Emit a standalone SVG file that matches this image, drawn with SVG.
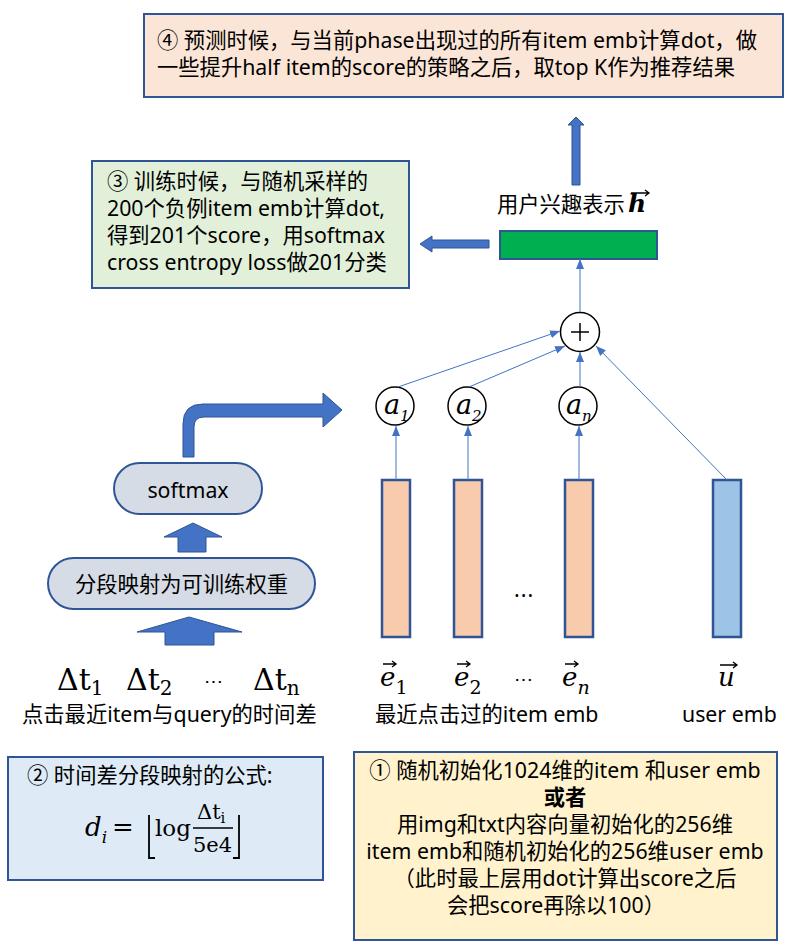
<svg xmlns="http://www.w3.org/2000/svg" width="793" height="952" viewBox="0 0 793 952">
<defs>
<marker id="ah" viewBox="0 0 10 10" refX="10" refY="5" markerWidth="10" markerHeight="8" markerUnits="userSpaceOnUse" orient="auto" preserveAspectRatio="none">
<path d="M0,0 L10,5 L0,10 z" fill="#4472C4"/>
</marker>
<style>
.t{font-family:'Noto Sans','Noto Sans CJK SC',sans-serif;font-size:21.3px;fill:#000}
.m{font-family:'DejaVu Serif','Liberation Serif',serif;fill:#000}
.mi{font-family:'DejaVu Serif','Liberation Serif',serif;font-style:italic;fill:#000}
.box{stroke:#2F5597;stroke-width:2}
.ln{stroke:#4472C4;stroke-width:1;fill:none;marker-end:url(#ah)}
.blk{fill:#4472C4;stroke:#2F5597;stroke-width:1}
.circ{fill:#fff;stroke:#000;stroke-width:1.5}
.bar{stroke:#2F5597;stroke-width:2.5}
.vec{stroke:#000;stroke-width:1.3;fill:none}
</style>
</defs>

<g id="predict-note">
<rect class="box" x="144" y="14" width="639" height="83" fill="#FBE5D6"/>
<text class="t"><tspan x="157" y="48">④ 预测时候，与当前phase出现过的所有item emb计算dot，做</tspan><tspan x="157" y="75">一些提升half item的score的策略之后，取top K作为推荐结果</tspan></text>
</g>

<g id="train-note">
<rect class="box" x="92" y="161" width="317" height="127" fill="#E2F0D9"/>
<text class="t"><tspan x="107" y="189">③ 训练时候，与随机采样的</tspan><tspan x="107" y="216">200个负例item emb计算dot,</tspan><tspan x="107" y="243">得到201个score，用softmax</tspan><tspan x="107" y="270">cross entropy loss做201分类</tspan></text>
</g>

<g id="user-interest">
<text class="t" x="497" y="212">用户兴趣表示</text>
<text class="mi" x="628" y="212" font-size="25" font-weight="bold">h</text>
<path class="vec" d="M631 193 h18 m-4 -3 l4 3 l-4 3"/>
<rect class="box" x="500" y="231" width="157" height="28" fill="#00B050"/>
</g>

<g id="plus-node">
<circle class="circ" cx="580" cy="332" r="19.5"/>
<path d="M571 332 h18 M580 323 v18" stroke="#000" stroke-width="1.5"/>
</g>

<g id="a1">
<circle class="circ" cx="395" cy="406" r="19"/>
<text class="mi" x="384" y="414" font-size="27">a<tspan font-size="15" dy="7">1</tspan></text>
</g>
<g id="a2">
<circle class="circ" cx="467" cy="406" r="19"/>
<text class="mi" x="456" y="414" font-size="27">a<tspan font-size="15" dy="7">2</tspan></text>
</g>
<g id="an">
<circle class="circ" cx="578" cy="406" r="19"/>
<text class="mi" x="566" y="414" font-size="27">a<tspan font-size="15" dy="7">n</tspan></text>
</g>

<g id="e1-bar"><rect class="bar" x="382" y="480" width="28" height="157" fill="#F8CBAD"/></g>
<g id="e2-bar"><rect class="bar" x="454" y="480" width="28" height="157" fill="#F8CBAD"/></g>
<g id="en-bar"><rect class="bar" x="565" y="480" width="28" height="157" fill="#F8CBAD"/></g>
<g id="u-bar"><rect class="bar" x="713" y="480" width="28" height="157" fill="#9DC3E6"/></g>
<text class="t" x="514" y="597" font-size="20" letter-spacing="1">...</text>

<g id="connectors">
<line class="ln" x1="396" y1="480" x2="396" y2="426"/>
<line class="ln" x1="468" y1="480" x2="468" y2="426"/>
<line class="ln" x1="579" y1="480" x2="579" y2="426"/>
<line class="ln" x1="398" y1="387" x2="560" y2="331"/>
<line class="ln" x1="469" y1="387" x2="565" y2="346"/>
<line class="ln" x1="580" y1="387" x2="580" y2="352"/>
<line class="ln" x1="727" y1="480" x2="596" y2="346"/>
<line class="ln" x1="580" y1="312" x2="580" y2="259"/>
<polygon class="blk" points="576,117 584,125 580,125 580,185 572,185 572,125 568,125"/>
<polygon class="blk" points="420,244 432,236 432,240 489,240 489,248 432,248 432,252"/>
<path class="blk" d="M183,457 L183,424 Q183,404 203,404 L323,404 L323,393 L342,410 L323,427 L323,417 L204,417 Q194,417 194,427 L194,457 Z"/>
<polygon class="blk" points="193,523 222,537 206,537 206,552 178,552 178,537 164,537"/>
<polygon class="blk" points="189,617 242,632 214,632 214,645 165,645 165,632 137,632"/>
</g>

<g id="softmax">
<rect class="box" x="114" y="463" width="148" height="51" rx="25.5" fill="#D6DCE5"/>
<text class="t" x="188" y="498" font-size="20" text-anchor="middle">softmax</text>
</g>

<g id="mapping">
<rect class="box" x="48" y="558" width="267" height="51" rx="25.5" fill="#D6DCE5"/>
<text class="t" x="181.5" y="592" text-anchor="middle">分段映射为可训练权重</text>
</g>

<g id="delta-t">
<text class="m" x="57" y="690" font-size="30">Δt<tspan font-size="20" dy="5">1</tspan></text>
<text class="m" x="126" y="690" font-size="30">Δt<tspan font-size="20" dy="5">2</tspan></text>
<text class="m" x="204" y="688" font-size="19">⋯</text>
<text class="m" x="253" y="690" font-size="30">Δt<tspan font-size="20" dy="5">n</tspan></text>
<text class="t" x="22" y="722">点击最近item与query的时间差</text>
</g>

<g id="e-labels">
<text class="mi" x="380" y="686" font-size="26">e<tspan class="m" font-style="normal" font-size="19" dy="8">1</tspan></text>
<path class="vec" d="M383 664 h13 m-4 -3 l4 3 l-4 3"/>
<text class="mi" x="454" y="686" font-size="26">e<tspan class="m" font-style="normal" font-size="19" dy="8">2</tspan></text>
<path class="vec" d="M457 664 h13 m-4 -3 l4 3 l-4 3"/>
<text class="m" x="514" y="686" font-size="19">⋯</text>
<text class="mi" x="562" y="686" font-size="26">e<tspan font-size="19" dy="8">n</tspan></text>
<path class="vec" d="M565 664 h13 m-4 -3 l4 3 l-4 3"/>
<text class="t" x="375" y="722">最近点击过的item emb</text>
</g>

<g id="u-label">
<text class="mi" x="718" y="686" font-size="26">u</text>
<path class="vec" d="M720 665 h17 m-4 -3 l4 3 l-4 3"/>
<text class="t" x="682" y="722">user emb</text>
</g>

<g id="formula-note">
<rect class="box" x="8" y="757" width="315" height="123" fill="#DEEBF7"/>
<text class="t" x="27" y="783">② 时间差分段映射的公式:</text>
<text class="mi" x="85" y="836" font-size="26">d<tspan font-size="17" dy="7">i</tspan></text>
<text class="m" x="112" y="836" font-size="26">=</text>
<path d="M149 815 V858 H155 M239 815 V858 H233" stroke="#000" stroke-width="1.8" fill="none"/>
<text class="m" x="155" y="836" font-size="23">log</text>
<line x1="193" y1="828" x2="233" y2="828" stroke="#000" stroke-width="1.4"/>
<text class="m" x="197" y="819" font-size="21">Δt<tspan font-size="15" dy="4">i</tspan></text>
<text class="m" x="193" y="852" font-size="21">5e4</text>
</g>

<g id="init-note">
<rect class="box" x="354" y="752" width="423" height="188" fill="#FFF2CC"/>
<text class="t" text-anchor="middle"><tspan x="565" y="778">① 随机初始化1024维的item 和user emb</tspan><tspan x="565" y="805" font-weight="bold">或者</tspan><tspan x="565" y="832">用img和txt内容向量初始化的256维</tspan><tspan x="565" y="859">item emb和随机初始化的256维user emb</tspan><tspan x="565" y="886">（此时最上层用dot计算出score之后</tspan><tspan x="556" y="913">会把score再除以100）</tspan></text>
</g>
</svg>
